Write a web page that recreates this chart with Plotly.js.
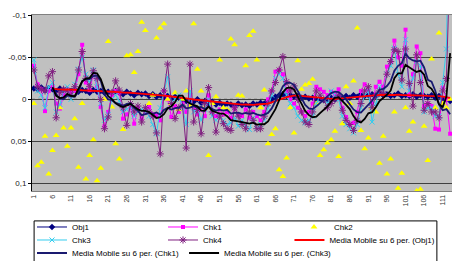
<!DOCTYPE html>
<html>
<head>
<meta charset="utf-8">
<script src="https://cdn.plot.ly/plotly-3.0.1.min.js"></script>
<style>html,body{margin:0;padding:0;background:#fff;}#chart{width:456px;height:261px;}</style>
</head>
<body>
<div id="chart"></div>
<script>
// ---- data ----
const obj1 = [
 -0.013,-0.012,-0.014,-0.011,-0.013,-0.012,-0.010,-0.013,-0.011,-0.012,
 -0.010,-0.012,-0.009,-0.011,-0.010,-0.008,-0.011,-0.009,-0.010,-0.008,
 -0.009,-0.007,-0.010,-0.008,-0.006,-0.009,-0.007,-0.005,-0.008,-0.006,
 -0.007,-0.004,-0.006,-0.003,-0.005,-0.002,-0.004,-0.001,-0.003,-0.002,
  0.000, 0.002, 0.001, 0.003, 0.000, 0.004, 0.002, 0.005, 0.003, 0.006,
  0.004, 0.007, 0.005, 0.006, 0.008, 0.005, 0.007, 0.006, 0.008, 0.005,
  0.006, 0.004, 0.005, 0.002, 0.000,-0.003,-0.005,-0.006,-0.004,-0.005,
 -0.003,-0.004,-0.002,-0.003,-0.001,-0.002, 0.000,-0.001, 0.001, 0.000,
 -0.002, 0.000,-0.003,-0.001,-0.004,-0.002,-0.005,-0.003,-0.006,-0.004,
 -0.005,-0.006,-0.004,-0.007,-0.005,-0.006,-0.004,-0.005,-0.007,-0.004,
 -0.005,-0.004,-0.006,-0.003,-0.005,-0.004,-0.003,-0.005,-0.002,-0.004,
 -0.001, 0.000, 0.002
];
const chk1 = [
 -0.040,-0.018,-0.012, 0.014,-0.010,-0.015, 0.005, 0.011,-0.005,-0.012,
 -0.008,-0.010,-0.030,-0.065,-0.020,-0.011,-0.030,-0.015, 0.009, 0.032,
  0.015,-0.005,-0.010,-0.008, 0.023, 0.018, 0.010, 0.029, 0.010, 0.023,
  0.015, 0.009, 0.018, 0.019, 0.025,-0.010, 0.000, 0.021, 0.008, 0.015,
  0.005, 0.015,-0.005, 0.010, 0.018, 0.012, 0.020,-0.005, 0.015, 0.020,
  0.012, 0.018, 0.015, 0.022, 0.010, 0.018, 0.020, 0.012, 0.022, 0.015,
  0.020, 0.025, 0.015, 0.000,-0.010,-0.033,-0.035,-0.030,-0.010, 0.000,
  0.005, 0.010, 0.015, 0.020, 0.015, 0.005,-0.015,-0.012,-0.009,-0.005,
 -0.009,-0.005,-0.012, 0.010, 0.021, 0.030, 0.028, 0.015,-0.010,-0.018,
 -0.010, 0.005,-0.015,-0.021,-0.015,-0.039,-0.045,-0.070,-0.050,-0.040,
 -0.083,-0.005,-0.030,-0.063,-0.055, 0.008, 0.005, 0.008, 0.035, 0.036,
 -0.014, 0.000, 0.041
];
const chk2 = [
  0.005, 0.079, 0.075, 0.044, 0.089, 0.061, 0.043, 0.010, 0.034, 0.056,
  0.034, 0.023, 0.081, 0.005, 0.095, 0.067, 0.048, 0.097, 0.082, 0.000,
 -0.069, 0.009, 0.053, 0.071, 0.036,-0.052,-0.053,-0.032,-0.057,-0.092,
 -0.082, 0.005,-0.005,-0.073,-0.085,-0.090, 0.000, 0.005,-0.008, 0.012,
  0.000,-0.010, 0.008,-0.090,-0.036,-0.010, 0.010, 0.067, 0.005,-0.003,
 -0.047, 0.010, 0.012,-0.072,-0.065,-0.005,-0.004,-0.040,-0.076,-0.081,
 -0.047, 0.010,-0.011, 0.053, 0.042, 0.035, 0.084, 0.092, 0.070, 0.010,
  0.040,-0.046,-0.012,-0.017,-0.019,-0.024, 0.005, 0.067, 0.060, 0.052,
  0.048, 0.038, 0.068, 0.029,-0.015, 0.005,-0.022,-0.085, 0.037, 0.059,
  0.046, 0.010, 0.015, 0.076, 0.044, 0.089, 0.071, 0.015, 0.106, 0.088,
  0.010, 0.038, 0.027, 0.109, 0.107, 0.032, 0.073,-0.048, 0.010,-0.079,
  0.005, 0.010, 0.000
];
const chk3 = [
 -0.047,-0.010,-0.005, 0.010,-0.015,-0.020, 0.015, 0.006,-0.010,-0.015,
  0.000,-0.018,-0.036,-0.050,-0.030,-0.020,-0.035,-0.015, 0.005, 0.025,
  0.018, 0.000,-0.005, 0.002, 0.015, 0.012, 0.008, 0.020, 0.015, 0.012,
  0.015, 0.020, 0.030, 0.041, 0.010,-0.010,-0.027, 0.005, 0.000,-0.005,
  0.010, 0.030,-0.010, 0.015, 0.010, 0.025, 0.012, 0.000, 0.020, 0.025,
  0.020, 0.025, 0.030, 0.028, 0.022, 0.032, 0.025, 0.030, 0.036, 0.022,
  0.035, 0.030, 0.025, 0.010,-0.005,-0.025,-0.030,-0.025,-0.005, 0.005,
  0.010, 0.020, 0.025, 0.028, 0.025, 0.020, 0.005,-0.005, 0.000, 0.005,
 -0.010,-0.005, 0.000, 0.020, 0.030, 0.035, 0.040, 0.030, 0.010,-0.005,
 -0.010, 0.027, 0.005,-0.015,-0.010,-0.030,-0.040,-0.061,-0.030,-0.015,
 -0.071,-0.010,-0.025,-0.045,-0.040, 0.015, 0.010, 0.010, 0.020, 0.020,
 -0.020,-0.060,-0.300
];
const chk4 = [
 -0.035,-0.015,-0.012,-0.010,-0.028,-0.033, 0.022,-0.008,-0.012,-0.010,
 -0.005,-0.015,-0.035,-0.057,-0.025,-0.015,-0.034,-0.025, 0.000, 0.035,
  0.021,-0.008,-0.022,-0.011, 0.010, 0.031, 0.005, 0.015, 0.008, 0.027,
  0.010, 0.015, 0.020, 0.040, 0.065,-0.010,-0.042, 0.005, 0.023, 0.010,
  0.008, 0.058,-0.042, 0.027, 0.012, 0.041, 0.005,-0.014, 0.015, 0.039,
  0.020, 0.029, 0.035, 0.037, 0.010, 0.020, 0.030, 0.035, 0.015, 0.025,
  0.035, 0.035, 0.020, 0.005,-0.010,-0.020,-0.035,-0.051,-0.021,-0.010,
 -0.016, 0.000, 0.015, 0.027, 0.030, 0.015,-0.010,-0.005, 0.000, 0.010,
  0.005, 0.000,-0.005, 0.013, 0.025, 0.030, 0.037, 0.025, 0.005,-0.010,
 -0.015, 0.010,-0.005,-0.010,-0.007,-0.030,-0.045,-0.059,-0.057,-0.023,
 -0.060,-0.019, 0.008,-0.053,-0.020, 0.013, 0.005, 0.015, 0.015, 0.022,
 -0.010,-0.025,-0.170
];
const yTickVals = [-0.1, -0.05, 0, 0.05, 0.1];
const yTickText = ['-0,1', '-0,05', '0', '0,05', '0,1'];
const xTickVals = [1,6,11,16,21,26,31,36,41,46,51,56,61,66,71,76,81,86,91,96,101,106,111];
const maPeriod = 6;

// ---- derived ----
const periods = obj1.map((_, i) => i + 1);
function movingAverage(arr, n) {
  return arr.map((_, i) => {
    if (i < n - 1) return null;
    let s = 0;
    for (let k = i - n + 1; k <= i; k++) s += arr[k];
    return s / n;
  });
}

const F = '"Liberation Sans", Arial, sans-serif';
const traces = [
  {name: 'Obj1', x: periods, y: obj1, mode: 'lines+markers', legend: 'legend',
   line: {color: '#000080', width: 1}, marker: {symbol: 'diamond', size: 5, color: '#000080'}},
  {name: 'Chk1', x: periods, y: chk1, mode: 'lines+markers', legend: 'legend',
   line: {color: '#FF00FF', width: 1}, marker: {symbol: 'square', size: 4, color: '#FF00FF'}},
  {name: 'Chk2', x: periods, y: chk2, mode: 'markers', legend: 'legend',
   marker: {symbol: 'triangle-up', size: 6, color: '#FFFF00'}},
  {name: 'Chk3', x: periods, y: chk3, mode: 'lines+markers', legend: 'legend2',
   line: {color: '#33CCEE', width: 1}, marker: {symbol: 'x-thin-open', size: 5, color: '#33CCEE', line: {width: 1}}},
  {name: 'Chk4', x: periods, y: chk4, mode: 'lines+markers', legend: 'legend2',
   line: {color: '#802080', width: 1}, marker: {symbol: 'asterisk-open', size: 6, color: '#802080', line: {width: 1}}},
  {name: 'Media Mobile su 6 per. (Obj1)', x: periods, y: movingAverage(obj1, maPeriod), mode: 'lines', legend: 'legend4',
   line: {color: '#FF0000', width: 1.8}},
  {name: 'Media Mobile su 6 per. (Chk1)', x: periods, y: movingAverage(chk1, maPeriod), mode: 'lines', legend: 'legend3',
   line: {color: '#1A1A70', width: 1.8}},
  {name: 'Media Mobile su 6 per. (Chk3)', x: periods, y: movingAverage(chk3, maPeriod), mode: 'lines', legend: 'legend3',
   line: {color: '#000000', width: 1.8}}
];

const legBase = {orientation: 'h', xanchor: 'left', yanchor: 'middle', bgcolor: 'rgba(0,0,0,0)',
  borderwidth: 0, font: {family: F, size: 8, color: '#000'}, entrywidthmode: 'pixels', itemwidth: 30, traceorder: 'normal'};

const layout = {
  width: 456, height: 261,
  margin: {l: 32, r: 4, t: 15, b: 70, autoexpand: false},
  paper_bgcolor: '#FFFFFF', plot_bgcolor: '#C0C0C0',
  font: {family: F, size: 8, color: '#222'},
  showlegend: true,
  xaxis: {range: [0.5, 113.5], tickmode: 'array', tickvals: xTickVals, ticktext: xTickVals.map(String),
    tickangle: -90, tickfont: {family: F, size: 7, color: '#333'}, showgrid: false, zeroline: false,
    showline: true, linecolor: '#808080', linewidth: 1, mirror: true, ticks: '', fixedrange: true},
  yaxis: {range: [0.1092, -0.1005], tickmode: 'array', tickvals: yTickVals, ticktext: yTickText,
    tickfont: {family: F, size: 8, color: '#222'}, showgrid: true, gridcolor: '#404040', gridwidth: 1,
    zeroline: false, showline: true, linecolor: '#000', linewidth: 1, ticks: 'outside', ticklen: 3,
    tickcolor: '#000', fixedrange: true},
  shapes: [
    {type: 'line', xref: 'paper', yref: 'y', x0: 0, x1: 1, y0: 0, y1: 0, layer: 'below',
     line: {color: '#303030', width: 1, dash: 'dot'}},
    {type: 'rect', xref: 'paper', yref: 'paper', x0: 0.005, x1: 0.964, y0: -0.170, y1: -0.45,
     line: {color: '#000', width: 1}, fillcolor: 'rgba(0,0,0,0)'}
  ],
  legend: Object.assign({}, legBase, {x: 0.0, y: -0.2045, entrywidth: 86}),
  legend2: Object.assign({}, legBase, {x: 0.0, y: -0.2784, entrywidth: 86}),
  legend4: Object.assign({}, legBase, {x: 0.613, y: -0.2784, entrywidth: 0}),
  legend3: Object.assign({}, legBase, {x: 0.0, y: -0.3523, entrywidth: 0})
};

Plotly.newPlot('chart', traces, layout, {staticPlot: true, displayModeBar: false});
</script>
</body>
</html>
